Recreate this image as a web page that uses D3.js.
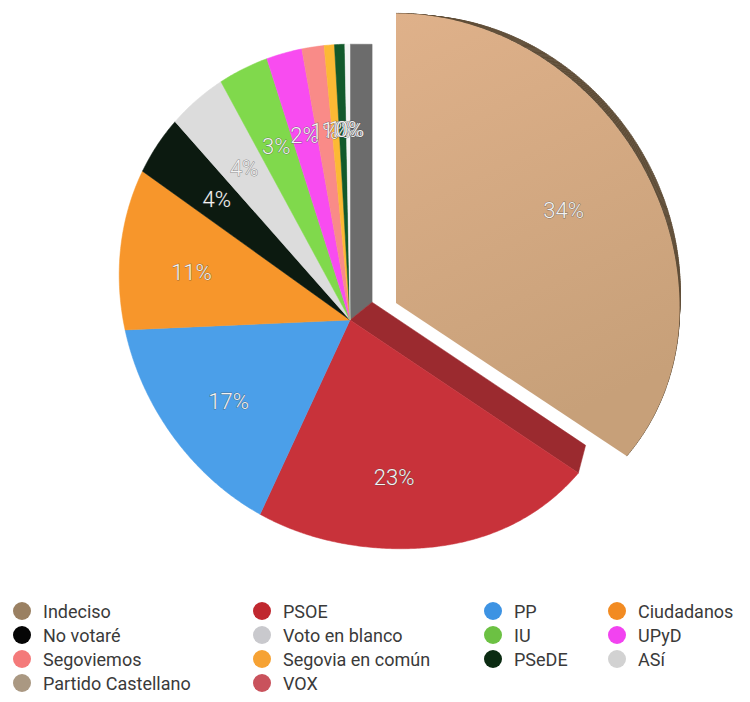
<!DOCTYPE html>
<html><head><meta charset="utf-8">
<script src="https://cdn.jsdelivr.net/npm/d3@7"></script>
<style>body{margin:0;background:#fff}</style></head>
<body>
<svg id="chart" width="750" height="702"></svg>
<script>
// ---- data ----
const categories = ["Indeciso","PSOE","PP","Ciudadanos","No votaré","Voto en blanco","IU","UPyD","Segoviemos","Segovia en común","PSeDE","ASí","Partido Castellano","VOX"];
const values = [34.4, 22.5, 17.4, 10.6, 3.6, 3.6, 3.0, 2.1, 1.3, 0.6, 0.6, 0.3, 0, 0];
const faceColors = ["#d8ac84","#c8323a","#4b9fe9","#f7962b","#0c1a10","#dcdcdc","#80d94c","#f84cf0","#f98b88","#fcb934","#12592b","#f4f4f4","#b09a85","#cc5560"];
const legendColors = ["#9a8062","#c0282f","#3d93e3","#f28b22","#050505","#c9c9cd","#6cc143","#f243f0","#f47a7a","#f6a234","#0b2b12","#d2d2d2","#aa9882","#c9525c"];

const svg = d3.select("#chart");
const data = categories.map((c,i)=>({name:c, v:values[i], face:faceColors[i], leg:legendColors[i]}));

// ---- projection of the tilted pie ----
const C = [350, 320];             // apex where slices meet
const O = [375, 300], A = 268, B = 243; // rim ellipse (rotated 45deg)
function rim(theta){
  const dx = Math.sin(theta), dy = -Math.cos(theta);
  const qx = C[0]-O[0], qy = C[1]-O[1];
  const s0=(qx+qy)/Math.SQRT2, t0=(qx-qy)/Math.SQRT2;
  const ds=(dx+dy)/Math.SQRT2, dt=(dx-dy)/Math.SQRT2;
  const a = ds*ds/(A*A)+dt*dt/(B*B);
  const b = 2*(s0*ds/(A*A)+t0*dt/(B*B));
  const c = s0*s0/(A*A)+t0*t0/(B*B)-1;
  const r = (-b+Math.sqrt(b*b-4*a*c))/(2*a);
  const deg = theta*180/Math.PI;
  return r*(1-0.03*Math.exp(-Math.pow((deg-170)/30,2)));
}
const pt = (theta, k=1) => { const r = rim(theta)*k; return [C[0]+r*Math.sin(theta), C[1]-r*Math.cos(theta)]; };
const V = [690, 46], lam = 0.065; // back face vanishing
const back = p => [p[0]+lam*(V[0]-p[0]), p[1]+lam*(V[1]-p[1])];
const Ce = [396, 303];
const explode = p => { const dx=p[0]-C[0], dy=p[1]-C[1]; return [Ce[0]+dx*1.01, Ce[1]+dy*(dy<0?1.05:1)]; };
function rimPoints(a0,a1){
  const n = Math.max(2, Math.ceil((a1-a0)/(Math.PI/360)));
  return d3.range(n+1).map(i => pt(a0+(a1-a0)*i/n));
}

const pie = d3.pie().sort(null).value(d=>d.v).startAngle(0).endAngle(2*Math.PI);
const arcs = pie(data);
const line = d3.line().curve(d3.curveLinearClosed);

const walls = svg.append("g");
const faces = svg.append("g");
const labels = svg.append("g");

// radial wall at 12 o'clock (end of last slice)
const T = pt(0);
walls.append("path").attr("d", line([C, T, back(T), back(C)])).attr("fill","#6c6c6c").attr("stroke","#6c6c6c").attr("stroke-width",0.5);
// radial wall of PSOE exposed by the exploded slice
const P = pt(arcs[1].startAngle);
walls.append("path").attr("d", line([C, P, back(P), back(C)])).attr("fill","#9b2a2f").attr("stroke","#9b2a2f").attr("stroke-width",0.5);
// outer wall of exploded slice
const ex = rimPoints(arcs[0].startAngle, arcs[0].endAngle).map(explode);
for (let i=0;i<ex.length-1;i++){
  walls.append("path").attr("d", line([ex[i], ex[i+1], back(ex[i+1]), back(ex[i])]))
    .attr("fill","#5f4d37").attr("stroke","#5f4d37").attr("stroke-width",0.6);
}

// gradient for exploded slice
const defs = svg.append("defs");
const g = defs.append("linearGradient").attr("id","gInd").attr("x1",0).attr("y1",0).attr("x2",0.3).attr("y2",1);
g.append("stop").attr("offset","0%").attr("stop-color","#dfb18a");
g.append("stop").attr("offset","100%").attr("stop-color","#c7a079");

arcs.forEach((d,i)=>{
  if (d.endAngle - d.startAngle <= 0) return;
  let poly = [C, ...rimPoints(d.startAngle, d.endAngle)];
  if (i===0) poly = poly.map(explode);
  faces.append("path").attr("d", line(poly))
    .attr("fill", i===0 ? "url(#gInd)" : d.data.face)
    .attr("stroke", i===0 ? "none" : d.data.face).attr("stroke-width",0.5);
});

// percentage labels
arcs.forEach((d,i)=>{
  const m = (d.startAngle+d.endAngle)/2;
  let p = pt(m, 0.69);
  if (i===0) p = explode(pt(m, 0.68));
  labels.append("text").attr("x",p[0]).attr("y",p[1])
    .attr("text-anchor","middle").attr("dominant-baseline","central")
    .attr("font-family","Roboto, 'DejaVu Sans', sans-serif").attr("font-weight",300)
    .attr("font-size",22).attr("fill","#f3f3f3")
    .attr("stroke","rgba(70,70,70,0.55)").attr("stroke-width",1).attr("paint-order","stroke")
    .text(Math.round(d.data.v)+"%");
});

// legend
const colX = [22, 262, 493, 617];
const rowY = [611, 635, 659, 683];
const leg = svg.append("g");
data.forEach((d,i)=>{
  const x = colX[i%4], y = rowY[Math.floor(i/4)];
  leg.append("circle").attr("cx",x).attr("cy",y).attr("r",9).attr("fill",d.leg);
  leg.append("text").attr("x",x+21).attr("y",y).attr("dominant-baseline","central")
    .attr("font-family","Roboto, 'DejaVu Sans', sans-serif").attr("font-size",18)
    .attr("fill","#3a3a3a").text(d.name);
});
</script>
</body></html>
